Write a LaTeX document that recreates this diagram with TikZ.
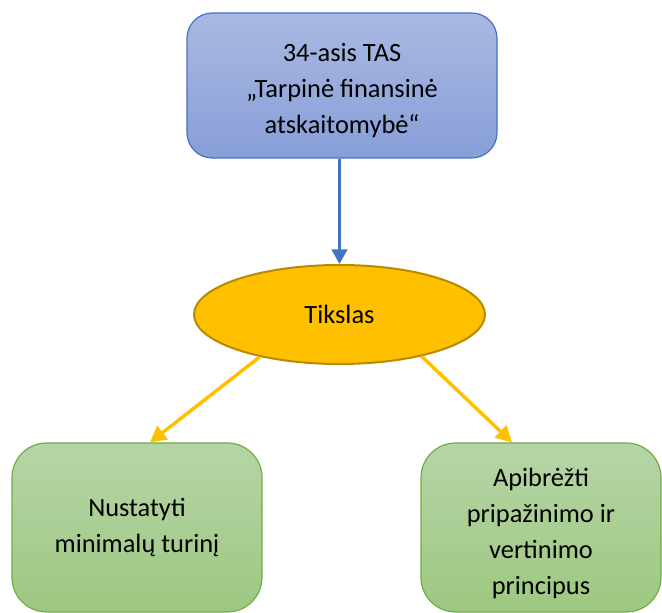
\documentclass[tikz,border=0pt]{standalone}
\usepackage{fontspec}
\setmainfont{Carlito}
\usetikzlibrary{arrows.meta,shapes.geometric}

\definecolor{bluetop}{RGB}{170,185,226}
\definecolor{bluebot}{RGB}{135,158,216}
\definecolor{blueedge}{RGB}{68,114,196}
\definecolor{greentop}{RGB}{182,213,167}
\definecolor{greenbot}{RGB}{157,200,128}
\definecolor{greenedge}{RGB}{112,173,71}
\definecolor{gold}{RGB}{255,192,0}
\definecolor{goldedge}{RGB}{184,138,0}

\tikzset{
  boxtext/.style={font=\fontsize{19.8pt}{27pt}\selectfont, align=center},
  headbox/.style={rectangle, rounded corners=19pt, draw=blueedge,
    line width=0.9pt, top color=bluetop, bottom color=bluebot,
    minimum width=310*0.75pt, minimum height=145*0.75pt, inner sep=0pt},
  goalbox/.style={rectangle, rounded corners=26pt, draw=greenedge,
    line width=0.9pt, top color=greentop, bottom color=greenbot,
    minimum height=169*0.75pt, inner sep=0pt},
  aim/.style={boxtext, ellipse, draw=goldedge, line width=1.5pt, fill=gold,
    minimum width=291*0.75pt, minimum height=99*0.75pt, inner sep=0pt},
  bluearrow/.style={draw=blueedge, line width=2.6pt,
    -{Triangle[length=11pt,width=11.5pt]}},
  goldarrow/.style={draw=gold, line width=2.6pt,
    -{Triangle[length=12pt,width=12.5pt]}}
}

\begin{document}
\begin{tikzpicture}[x=0.75pt,y=-0.75pt]
  \useasboundingbox (0,0) rectangle (662,613);

  \node[headbox, label={[boxtext, yshift=-3.5pt]center:{34-asis TAS\\„Tarpinė finansinė\\atskaitomybė“}}]
    (ias) at (342,85.5) {};

  \node[aim] (goal) at (339.5,314.5) {Tikslas};

  \node[goalbox, minimum width=250*0.75pt,
    label={[boxtext, yshift=0pt]center:{Nustatyti\\minimalų turinį}}]
    (content) at (137,527.5) {};

  \node[goalbox, minimum width=240*0.75pt,
    label={[boxtext, yshift=-4.5pt]center:{Apibrėžti\\pripažinimo ir\\vertinimo\\principus}}]
    (principles) at (541,527.5) {};

  \draw[bluearrow] (ias.south -| goal.north) -- (goal.north);
  \draw[goldarrow] (goal.208) -- ([xshift=9.75pt]content.north);
  \draw[goldarrow] (goal.333) -- ([xshift=-21.75pt]principles.north);
\end{tikzpicture}
\end{document}
